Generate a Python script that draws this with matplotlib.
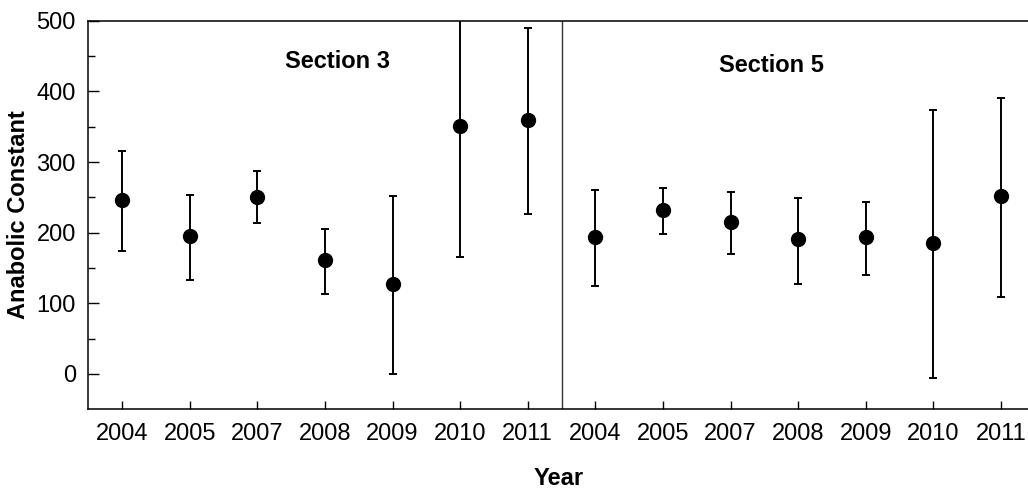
import matplotlib
matplotlib.use("Agg")
import matplotlib.pyplot as plt
from matplotlib.ticker import FixedLocator
import numpy as np

plt.rcParams['font.family'] = ['Liberation Sans', 'DejaVu Sans']

years = ["2004", "2005", "2007", "2008", "2009", "2010", "2011"]
sections = ["Section 3", "Section 5"]

sec3_mean = [246, 195, 251, 161, 128, 351, 360]
sec3_low = [174, 133, 213, 113, 0, 166, 227]
sec3_high = [315, 254, 287, 205, 252, 536, 489]

sec5_mean = [194, 232, 215, 191, 194, 185, 252]
sec5_low = [124, 198, 170, 128, 140, -6, 109]
sec5_high = [261, 263, 257, 249, 244, 373, 391]

means = sec3_mean + sec5_mean
lows = sec3_low + sec5_low
highs = sec3_high + sec5_high
labels = years + years

fig = plt.figure(figsize=(10.28, 4.91), dpi=100)
ax = fig.add_axes([0.0859, 0.1664, 0.9141, 0.7914])

x = np.arange(len(means))
m = np.array(means, dtype=float)
yerr = np.vstack([m - np.array(lows), np.array(highs) - m])
ax.errorbar(x, m, yerr=yerr, fmt='o', color='black', ms=10,
            elinewidth=1.4, capsize=2.8, capthick=1.4, clip_on=True)

ax.axvline(6.5, color='#333333', lw=1.0)

ax.set_xlim(-0.5, 13.4)
ax.set_ylim(-50, 500)
ax.xaxis.set_major_locator(FixedLocator(x))
ax.set_xticklabels(labels)
ax.yaxis.set_major_locator(FixedLocator([0, 100, 200, 300, 400, 500]))
ax.yaxis.set_minor_locator(FixedLocator([50, 150, 250, 350, 450]))

ax.tick_params(axis='y', which='major', direction='in', length=7.6, width=1.0,
               labelsize=17, pad=9)
ax.tick_params(axis='y', which='minor', direction='in', length=4.8, width=1.0)
ax.tick_params(axis='x', which='major', direction='in', length=5.8, width=1.0,
               labelsize=17, pad=10)

for s in ['left', 'bottom', 'top']:
    ax.spines[s].set_linewidth(1.1)
ax.spines['right'].set_visible(False)

ax.text(3.19, 442, sections[0], ha='center', va='center', fontsize=17,
        fontweight='bold')
ax.text(9.6, 436, sections[1], ha='center', va='center', fontsize=17,
        fontweight='bold')

ax.set_ylabel("Anabolic Constant", fontsize=17, fontweight='bold')
ax.yaxis.set_label_coords(-0.062, 0.5)
ax.set_xlabel("Year", fontsize=17, fontweight='bold', labelpad=16)

fig.savefig("out.png", dpi=100)
